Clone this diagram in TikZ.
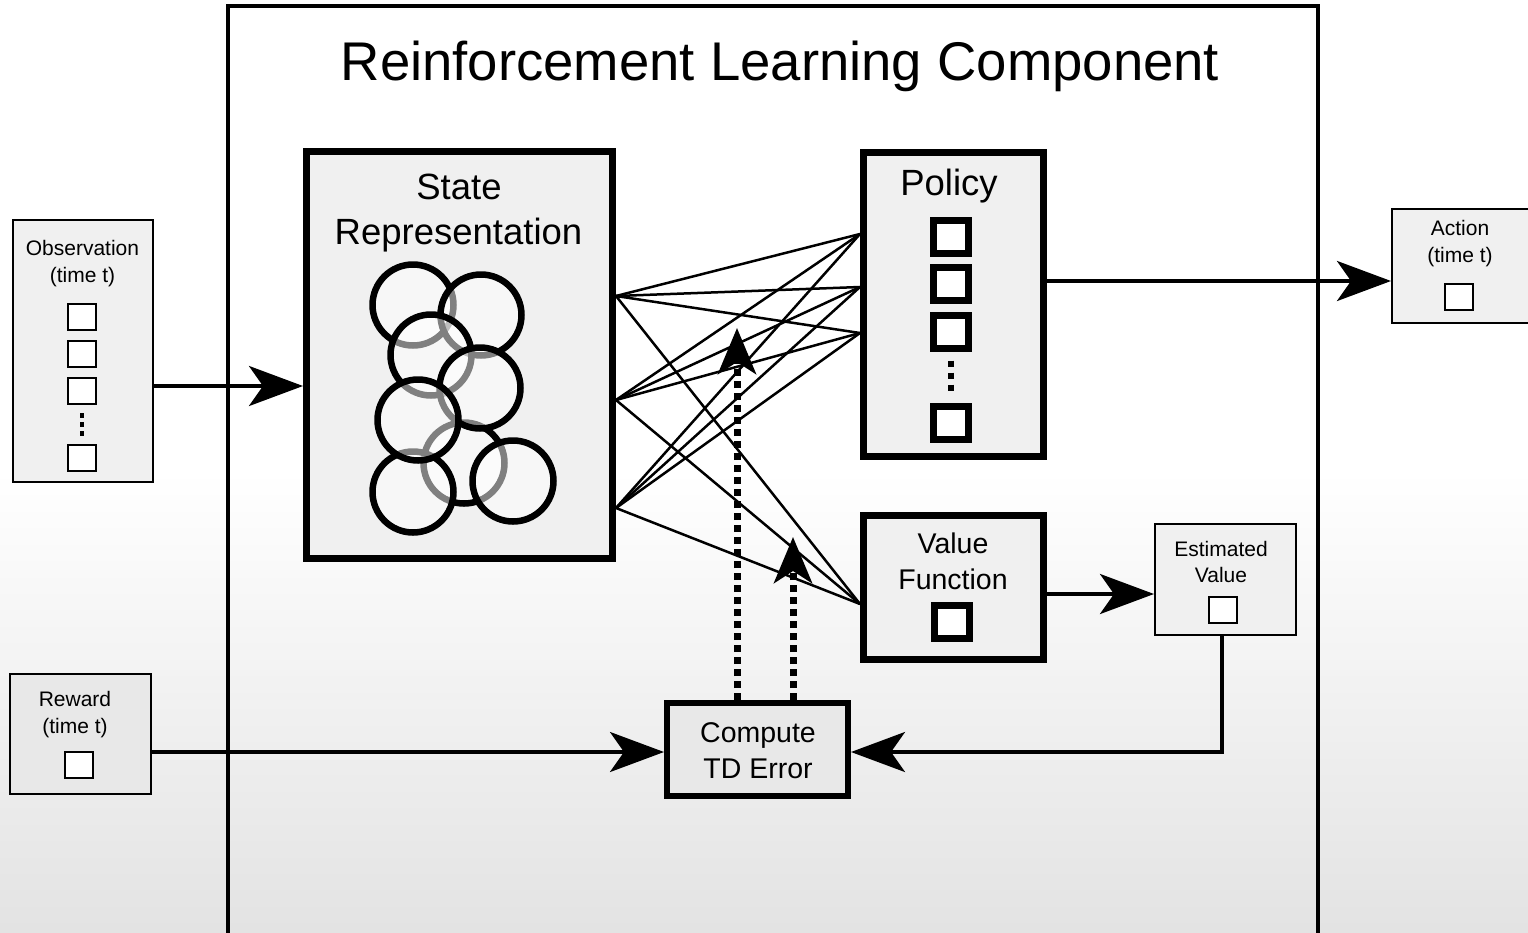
\documentclass[tikz,border=0pt]{standalone}
\usepackage{fontspec}
\setmainfont{Liberation Sans}
\usetikzlibrary{arrows.meta,calc}
\begin{document}
\begin{tikzpicture}[x=1pt,y=-1pt]
\tikzset{
 bigbox/.style={draw, line width=7pt, fill=black!6, inner sep=0pt},
 tdbox/.style={draw, line width=6pt, fill=black!9, inner sep=0pt},
 smallbox/.style={draw, line width=2pt, fill=black!6, inner sep=0pt},
 cell/.style={draw, line width=2pt, fill=white, minimum width=28pt, minimum height=26pt, inner sep=0pt},
 thickcell/.style={draw, line width=7pt, fill=white, minimum width=35pt, minimum height=33pt, inner sep=0pt},
 unit/.style={circle, draw=black, fill=white, fill opacity=0.5, draw opacity=1, line width=6.5pt, minimum size=81pt, inner sep=0pt},
 lbl/.style={anchor=base, inner sep=0pt, font=\fontsize{21}{21}\selectfont},
 biglbl/.style={anchor=base, inner sep=0pt, font=\fontsize{36.5}{36.5}\selectfont},
 midlbl/.style={anchor=base, inner sep=0pt, font=\fontsize{28.5}{28.5}\selectfont},
 titlelbl/.style={anchor=base, inner sep=0pt, font=\fontsize{54.5}{54.5}\selectfont},
 arr/.style={line width=4pt, -{Stealth[length=54pt,width=40pt,inset=14pt]}},
 link/.style={line width=2.5pt},
 feedback/.style={line width=7pt, dash pattern=on 7pt off 5pt, -{Stealth[length=46pt,width=38pt,inset=12pt]}},
 celldots/.style={line width=4pt, dash pattern=on 5pt off 4pt},
 bigdots/.style={line width=6pt, dash pattern=on 6pt off 6pt}
}
\useasboundingbox (0,0) rectangle (1528,932);
% background
\fill[white] (0,0) rectangle (1528,932);
\shade[top color=white, bottom color=black!11] (0,470) rectangle (1528,932);

% outer component box
\draw[line width=4pt] (228,960) -- (228,6) -- (1318,6) -- (1318,960);
\node[titlelbl] (title) at (780,80) {Reinforcement Learning Component};

% observation
\node[smallbox, minimum width=140pt, minimum height=262pt] (obs) at (83,351) {};
\node[lbl] (obsT1) at (82.5,255) {Observation};
\node[lbl] (obsT2) at (82.5,282) {(time t)};
\node[cell] (o1) at (82,317) {};
\node[cell] (o2) at (82,354) {};
\node[cell] (o3) at (82,391) {};
\node[cell] (o4) at (82,458) {};
\draw[celldots, shorten <=8pt, shorten >=7pt] (o3.south) -- (o4.north);

% reward
\node[smallbox, fill=black!9, minimum width=141pt, minimum height=120pt] (reward) at (80.5,734) {};
\node[lbl] (rewT1) at (75,706) {Reward};
\node[lbl] (rewT2) at (75,733) {(time t)};
\node[cell] (rcell) at (79,764.5) {};

% action
\node[smallbox, minimum width=140pt, minimum height=114pt] (action) at (1462,266) {};
\node[lbl] (actT1) at (1460,235) {Action};
\node[lbl] (actT2) at (1460,262) {(time t)};
\node[cell] (acell) at (1459,296.5) {};

% estimated value
\node[smallbox, minimum width=141pt, minimum height=111pt] (est) at (1225.5,579.5) {};
\node[lbl] (estT1) at (1221,556) {Estimated};
\node[lbl] (estT2) at (1221,582) {Value};
\node[cell] (ecell) at (1223,609.5) {};

% state representation
\node[bigbox, minimum width=306pt, minimum height=407pt] (state) at (459.5,355) {};
\node[biglbl] (stT1) at (459,199) {State};
\node[biglbl] (stT2) at (458.5,244) {Representation};
\node[unit] (c1) at (413,305) {};
\node[unit] (c2) at (481,315) {};
\node[unit] (c3) at (431,355) {};
\node[unit] (c6) at (464,463) {};
\node[unit] (c4) at (480,388) {};
\node[unit] (c7) at (413,492) {};
\node[unit] (c8) at (513,481) {};
\node[unit] (c5) at (418,420) {};

% policy
\node[bigbox, minimum width=180pt, minimum height=304pt] (policy) at (953.5,304.5) {};
\node[biglbl] (polT) at (949,195) {Policy};
\node[thickcell] (p1) at (951,236.5) {};
\node[thickcell] (p2) at (951,283.5) {};
\node[thickcell] (p3) at (951,331.5) {};
\node[thickcell] (p4) at (951,422.5) {};
\draw[bigdots, shorten <=9pt, shorten >=8pt] (p3.south) -- (p4.north);

% value function
\node[bigbox, minimum width=180pt, minimum height=144pt] (value) at (953.5,587.5) {};
\node[midlbl] (vfT1) at (953,553) {Value};
\node[midlbl] (vfT2) at (953,589) {Function};
\node[thickcell] (vcell) at (951.5,622) {};

% compute TD error
\node[tdbox, minimum width=181pt, minimum height=93pt] (td) at (757.5,749.5) {};
\node[midlbl] (tdT1) at (758,742) {Compute};
\node[midlbl] (tdT2) at (758,778) {TD Error};

% links state -> policy / value
\coordinate (s1) at (state.east |- 0,296);
\coordinate (s2) at (state.east |- 0,400);
\coordinate (s3) at (state.east |- 0,508);
\coordinate (t1) at (policy.west |- 0,234);
\coordinate (t2) at (policy.west |- 0,287);
\coordinate (t3) at (policy.west |- 0,333);
\coordinate (t4) at (value.west |- 0,604);
\foreach \s in {s1,s2,s3}{
  \foreach \t in {t1,t2,t3,t4}{
    \draw[link] (\s) -- (\t);
  }
}

% feedback (dotted) arrows
\coordinate (d1) at (737,328);
\coordinate (d2) at (793,537);
\draw[feedback] (td.north -| d1) -- (d1);
\draw[feedback] (td.north -| d2) -- (d2);

% main arrows
\coordinate (oa) at (0,386);
\draw[arr] (obs.east |- oa) -- (state.west |- oa);
\coordinate (pa) at (0,281);
\draw[arr] (policy.east |- pa) -- (action.west |- pa);
\coordinate (ve) at (0,594);
\draw[arr] (value.east |- ve) -- (est.west |- ve);
\coordinate (rt) at (0,752);
\draw[arr, line width=3.5pt] (reward.east |- rt) -- (td.west |- rt);
\draw[arr, line width=3.5pt] (est.south -| 1222,0) |- (td.east |- rt);
\end{tikzpicture}
\end{document}
